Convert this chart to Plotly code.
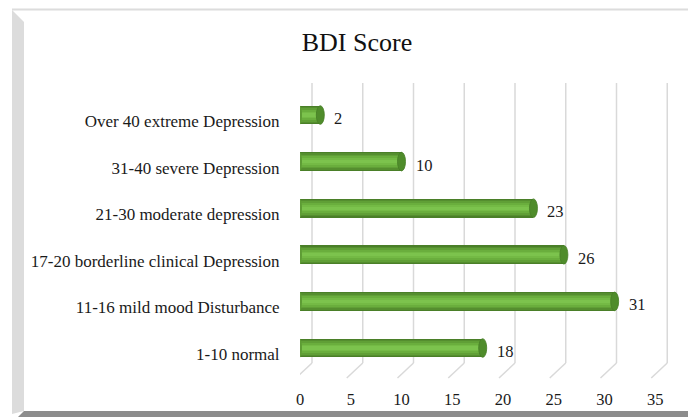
import plotly.graph_objects as go

# ---- data ----
categories = [
    "1-10 normal",
    "11-16 mild mood Disturbance",
    "17-20 borderline clinical Depression",
    "21-30 moderate depression",
    "31-40 severe Depression",
    "Over 40 extreme Depression",
]
values = [18, 31, 26, 23, 10, 2]
x_ticks = [0, 5, 10, 15, 20, 25, 30, 35]
title_text = "BDI Score"

# ---- layout geometry (pixels) ----
W, H = 688, 417
L, R, T, B = 300, 8, 83, 39
PW = W - L - R
PH = H - T - B
XMAX = PW / 10.15
SH = 0.13                      # bars sit slightly above their labels (3D look)
YR = [-0.644 + SH, 5.687 + SH]
UNIT_PX = PH / (YR[1] - YR[0])
SH_PX = SH * UNIT_PX
FONT = "Liberation Serif"


def px(xp):
    return (xp - L) / PW


def py(yp):
    return (H - B - yp) / PH


fig = go.Figure()

# cylinder-like bars: overlaid bars of decreasing width
layers = [
    (0.40, "#4a7f28"),
    (0.35, "#558e2f"),
    (0.29, "#609f36"),
    (0.22, "#6aae3d"),
    (0.14, "#74ba45"),
    (0.07, "#7cc34d"),
]
for w, c in layers:
    fig.add_trace(go.Bar(
        y=categories, x=values, orientation="h", width=w, offset=-w / 2 + SH,
        marker=dict(color=c, line=dict(width=0)),
        hoverinfo="skip", showlegend=False,
    ))

shapes = []
# gridlines with 3D floor bend
for v in x_ticks:
    shapes.append(dict(type="line", xref="x", yref="paper", xsizemode="pixel", xanchor=v,
                       x0=12, x1=12, y0=15 / PH, y1=1,
                       line=dict(color="#d9d9d9", width=1.5), layer="below"))
    shapes.append(dict(type="line", xref="x", yref="paper", xsizemode="pixel", xanchor=v,
                       x0=-4, x1=12, y0=0, y1=15 / PH,
                       line=dict(color="#d9d9d9", width=1.5), layer="below"))

# end caps of the cylinders
for cat, v in zip(categories, values):
    shapes.append(dict(type="circle", xref="x", yref="y", xsizemode="pixel", ysizemode="pixel",
                       xanchor=v, yanchor=cat, x0=-4, x1=4, y0=SH_PX - 9.3, y1=SH_PX + 9.3,
                       fillcolor="#4f8c2b", line=dict(color="#467d26", width=0.8), layer="above"))
    shapes.append(dict(type="circle", xref="x", yref="y", xsizemode="pixel", ysizemode="pixel",
                       xanchor=0, yanchor=cat, x0=-2, x1=2, y0=SH_PX - 9.3, y1=SH_PX + 9.3,
                       fillcolor="#5e9c35", line=dict(width=0), layer="above"))

# frame: top line, left bevel strip, bottom dark strip
shapes.append(dict(type="line", xref="paper", yref="paper",
                   x0=px(12), x1=px(W), y0=py(9.5), y1=py(9.5),
                   line=dict(color="#dcdcdc", width=2)))
shapes.append(dict(type="path", xref="paper", yref="paper",
                   path=f"M {px(12)},{py(10)} L {px(24)},{py(22)} L {px(24)},{py(411)} L {px(12)},{py(414)} Z",
                   fillcolor="#dcdcdc", line=dict(width=0)))
shapes.append(dict(type="path", xref="paper", yref="paper",
                   path=f"M {px(24)},{py(411)} L {px(W)},{py(411)} L {px(W)},{py(H)} L {px(18)},{py(H)} Z",
                   fillcolor="#8c8c8c", line=dict(width=0)))

annotations = []
for cat, v in zip(categories, values):
    annotations.append(dict(x=v, y=cat, xref="x", yref="y", text=str(v), showarrow=False,
                            xanchor="left", xshift=12, yshift=SH_PX - 3.5,
                            font=dict(family=FONT, size=16.5, color="#1a1a1a")))

fig.update_layout(
    width=W, height=H,
    margin=dict(l=L, r=R, t=T, b=B),
    paper_bgcolor="white", plot_bgcolor="white",
    barmode="overlay",
    bargap=0,
    title=dict(text=title_text, xref="container", yref="container", x=357 / W, y=1 - 42 / H,
               xanchor="center", yanchor="middle",
               font=dict(family=FONT, size=26, color="#111")),
    xaxis=dict(range=[0, XMAX], tickvals=x_ticks, showgrid=False, zeroline=False,
               showline=False, ticks="outside", ticklen=6, tickcolor="rgba(0,0,0,0)",
               tickfont=dict(family=FONT, size=16.5, color="#1a1a1a"), fixedrange=True),
    yaxis=dict(type="category", categoryorder="array", categoryarray=categories, range=YR,
               showgrid=False, zeroline=False, showline=False, ticks="outside", ticklen=16,
               tickcolor="rgba(0,0,0,0)",
               tickfont=dict(family=FONT, size=17, color="#1a1a1a"), fixedrange=True),
    shapes=shapes,
    annotations=annotations,
)

fig.write_html("out.html")
